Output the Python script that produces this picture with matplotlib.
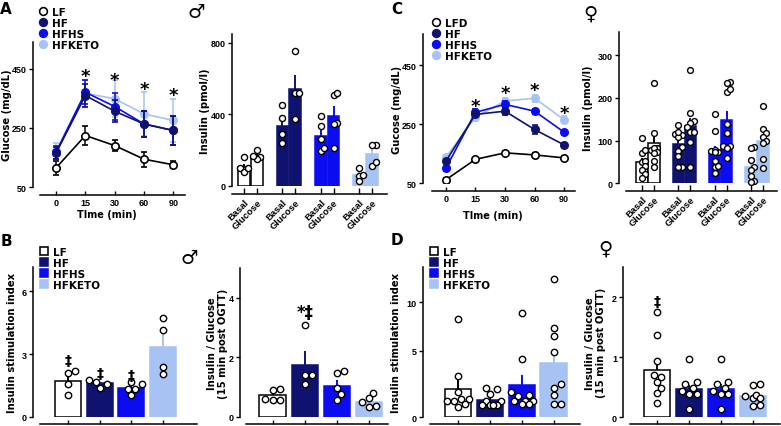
import numpy as np
import matplotlib
matplotlib.use("Agg")
import matplotlib.pyplot as plt
from matplotlib.lines import Line2D

plt.rcParams['font.family'] = ['DejaVu Sans']
plt.rcParams['font.weight'] = 'bold'
plt.rcParams['axes.labelweight'] = 'bold'

W, H, DPI = 781, 427, 100
NARROW = ['Liberation Sans Narrow', 'Liberation Sans', 'DejaVu Sans']

# ---- data -------------------------------------------------------------------
groups = ["LF", "HF", "HFHS", "HFKETO"]
times = ["0", "15", "30", "60", "90"]
ins_labels = ["Basal", "Glucose"]

# A: male OGTT glucose (mg/dL), mean +/- SEM
a_lf = [115, 224, 190, 144, 125]
a_lf_sem = [23, 32, 20, 25, 12]
a_hf = [165, 359, 306, 263, 241]
a_hf_sem = [20, 38, 37, 45, 50]
a_hfhs = [168, 370, 322, 263, 241]
a_hfhs_sem = [22, 40, 44, 45, 48]
a_keto = [171, 367, 348, 297, 275]
a_keto_sem = [27, 45, 62, 75, 73]
a_star_y = [438, 426, 395, 374]

# A right: male insulin (pmol/l)
a_ins_basal = [107, 338, 282, 62]
a_ins_gluc = [169, 545, 389, 178]
a_ins_basal_sem = [18, 45, 38, 15]
a_ins_gluc_sem = [12, 75, 58, 28]
a_ins_basal_pts = [[160, 103, 79, 100], [451, 381, 291, 240],
                   [391, 336, 263, 197, 210], [98, 56, 60, 28]]
a_ins_gluc_pts = [[203, 160, 150, 165], [755, 520, 520, 376],
                  [511, 522, 353, 344, 210], [231, 227, 113, 137]]

# C: female OGTT glucose (mg/dL)
c_lfd = [62, 131, 153, 146, 136]
c_lfd_sem = [6, 6, 6, 6, 6]
c_hf = [125, 283, 294, 232, 180]
c_hf_sem = [8, 10, 12, 15, 8]
c_hfhs = [101, 290, 317, 294, 223]
c_hfhs_sem = [8, 10, 10, 8, 8]
c_keto = [138, 274, 328, 338, 265]
c_keto_sem = [8, 12, 12, 12, 12]
c_star_y = [325, 370, 379, 302]

# C right: female insulin (pmol/l)
c_ins_basal = [49, 92, 73, 39]
c_ins_gluc = [94, 134, 148, 100]
c_ins_basal_sem = [10, 10, 14, 10]
c_ins_gluc_sem = [20, 18, 22, 15]
c_ins_basal_pts = [[106, 71, 79, 51, 52, 40, 31, 22, 12],
                   [136, 116, 112, 108, 120, 85, 76, 63, 39, 39],
                   [161, 123, 73, 75, 77, 52, 39, 41, 24, 73],
                   [84, 82, 55, 39, 31, 16, 6, 4]]
c_ins_gluc_pts = [[234, 117, 82, 79, 82, 73, 71, 53, 39],
                  [264, 164, 145, 141, 131, 120, 121, 96, 39],
                  [237, 234, 213, 221, 139, 118, 88, 88, 82, 59],
                  [180, 126, 117, 108, 98, 95, 57, 36]]

# B: male insulin stimulation index and insulin/glucose
b_isi = [1.71, 1.6, 1.36, 3.33]
b_isi_sem = [0.25, 0.08, 0.12, 0.95]
b_isi_pts = [[2.1, 2.18, 1.55, 1.04], [1.67, 1.39, 1.55, 1.78],
             [1.66, 1.34, 1.04, 1.55, 1.31], [4.74, 4.15, 2.05, 2.37]]
b_isi_dagger_y = [2.9, 2.3, 2.2]
b_ig = [0.74, 1.75, 1.04, 0.51]
b_ig_sem = [0.08, 0.45, 0.2, 0.09]
b_ig_pts = [[0.93, 0.9, 0.6, 0.57, 0.57], [3.1, 1.1, 1.42, 1.42],
            [1.46, 1.53, 0.97, 0.76, 0.56], [0.8, 0.48, 0.62, 0.31, 0.35]]
b_ig_mark_y = 3.69

# D: female insulin stimulation index and insulin/glucose
d_isi = [2.15, 1.3, 2.4, 4.05]
d_isi_sem = [0.65, 0.15, 0.8, 0.6]
d_isi_pts = [[8.3, 3.1, 1.9, 1.4, 1.4, 1.2, 1.2, 1.0, 0.8],
             [2.1, 1.75, 2.2, 1.2, 1.2, 0.9, 0.9, 0.9, 0.9],
             [8.9, 4.4, 1.9, 1.7, 1.6, 1.25, 1.25, 1.0, 1.0, 1.2],
             [12.4, 7.3, 6.55, 4.9, 2.5, 2.2, 1.7, 1.0, 1.0]]
d_ig = [0.79, 0.47, 0.47, 0.35]
d_ig_sem = [0.15, 0.07, 0.08, 0.04]
d_ig_pts = [[1.75, 1.37, 0.94, 0.71, 0.68, 0.49, 0.59, 0.4, 0.24],
            [0.97, 0.56, 0.49, 0.59, 0.39, 0.39, 0.44, 0.14],
            [0.97, 0.56, 0.49, 0.59, 0.39, 0.39, 0.44, 0.14],
            [0.54, 0.56, 0.33, 0.35, 0.38, 0.33, 0.19, 0.2]]
d_ig_dagger_y = 2.0

# ---- style ------------------------------------------------------------------
NAVY, BLUE, LIGHT = '#10126f', '#0c0cf0', '#a6c3f3'
faces = ['white', NAVY, BLUE, LIGHT]
edges = ['black', NAVY, BLUE, LIGHT]

fig = plt.figure(figsize=(W / DPI, H / DPI), dpi=DPI)


def box(l, r, t, b):
    return [l / W, 1 - b / H, (r - l) / W, (b - t) / H]


def style(ax, left_out, bottom_out, xtick_len=4):
    for s in ("top", "right"):
        ax.spines[s].set_visible(False)
    ax.spines["left"].set_position(("outward", left_out * 0.72))
    ax.spines["bottom"].set_position(("outward", bottom_out * 0.72))
    for s in ("left", "bottom"):
        ax.spines[s].set_linewidth(1.1)
    ax.tick_params(axis="y", direction="out", length=3, width=1.0, labelsize=6.5, pad=1.5)
    ax.tick_params(axis="x", direction="in", length=xtick_len * 0.72, width=1.0,
                   labelsize=6.5, pad=2.5)


def narrow_ticks(ax):
    for t in ax.get_xticklabels() + ax.get_yticklabels():
        t.set_family(NARROW)
        t.set_weight('bold')


def ylabel_at(ax, text, right_px, l, r):
    ax.set_ylabel(text, fontsize=7.2, linespacing=1.1)
    ax.yaxis.set_label_coords((right_px - l) / (r - l), 0.5)


def swarm_x(ax, x0, vals, half_px, diam=6.3, thr=0.85):
    vals = np.asarray(vals, float)
    disp = ax.transData.transform(np.column_stack([np.full(len(vals), x0), vals]))
    out = disp[:, 0].copy()
    done = []
    step = diam * 0.5
    nmax = int(half_px // step)
    cands = [0.0]
    for k in range(1, nmax + 1):
        cands += [k * step, -k * step]
    for i in np.argsort(disp[:, 1]):
        cx, cy = disp[i]
        best, best_d = cx, -1
        for c in cands:
            tx = cx + c
            d = min([np.hypot(tx - px, cy - py) for px, py in done] + [1e9])
            if d >= diam * thr:
                best = tx
                break
            if d > best_d:
                best, best_d = tx, d
        out[i] = best
        done.append((best, cy))
    return ax.transData.inverted().transform(np.column_stack([out, disp[:, 1]]))[:, 0]


def bar_with_points(ax, xp, mean, sem, pts, g, width, half_px, ms=4.4, thr=0.85):
    ax.errorbar([xp], [mean], yerr=[[0], [sem]], fmt='none', ecolor=edges[g],
                elinewidth=1.4, capsize=0, zorder=1.5)
    ax.bar(xp, mean, width, color=faces[g], edgecolor=edges[g], linewidth=1.1, zorder=2)
    xs = swarm_x(ax, xp, pts, half_px, diam=ms * 1.39 + 1, thr=thr)
    ax.plot(xs, pts, 'o', ms=ms, mfc='white', mec='black', mew=1.0, zorder=3, clip_on=False)


def mark(ax, x, y, s, size):
    ax.annotate(s, (x, y), xytext=(0, -0.3 * size), textcoords='offset points',
                ha='center', va='center', fontsize=size, fontweight='bold')


def ogtt(ax, series, stars):
    x = np.arange(len(times))
    for vals, sem, g in reversed(series):
        ax.errorbar(x, vals, yerr=sem, color=edges[g], ecolor=edges[g], lw=1.2,
                    marker='o', ms=5.3, mfc=faces[g], mec=edges[g],
                    mew=1.2, capsize=2.5, elinewidth=1.1, capthick=1.1, zorder=3 + (3 - g) * 0.1)
    for xi, ys in zip(x[1:], stars):
        ax.annotate('*', (xi, ys), xytext=(0, -3), textcoords='offset points',
                    ha='center', va='center', fontsize=13, fontweight='bold')
    ax.set_xticks(x)
    ax.set_xticklabels(times)


def legend(ax, names, marker, ms, x0, y0):
    hs = [Line2D([], [], ls='none', marker=marker, ms=ms, mfc=faces[g],
                 mec=edges[g], mew=1.15) for g in range(4)]
    ax.legend(hs, names, loc='upper left', bbox_to_anchor=(x0 / W, 1 - y0 / H),
              bbox_transform=fig.transFigure, frameon=False, prop={'size': 7.5, 'weight': 'bold'},
              handlelength=0.8, handletextpad=0.45, labelspacing=0.1, borderpad=0,
              borderaxespad=0)


# ---- A left: male OGTT -----------------------------------------------------
ax = fig.add_axes(box(40, 185, 43, 188))
style(ax, 7, 8)
ax.set_xlim(-0.55, 4.4)
ax.set_ylim(50, 540)
ax.set_yticks([50, 250, 450])
ogtt(ax, [(a_lf, a_lf_sem, 0), (a_hf, a_hf_sem, 1), (a_hfhs, a_hfhs_sem, 2),
          (a_keto, a_keto_sem, 3)], a_star_y)
ax.set_xlabel("TIme (min)", fontsize=7)
ax.xaxis.set_label_coords((107 - 40) / 145, -0.155)
ylabel_at(ax, "Glucose (mg/dL)", 12, 40, 185)
legend(ax, groups, 'o', 5.6, 39, 8)
narrow_ticks(ax)

# ---- A right: male insulin ----------------------------------------------------
ax = fig.add_axes(box(232, 387, 35, 187))
style(ax, 0, 8, 6)
ax.set_xlim(-0.94, 11.17)
ax.set_ylim(0, 850)
ax.set_yticks([0, 400, 800])
ticks = []
for g in range(4):
    for j, (m, s, p) in enumerate([(a_ins_basal[g], a_ins_basal_sem[g], a_ins_basal_pts[g]),
                                   (a_ins_gluc[g], a_ins_gluc_sem[g], a_ins_gluc_pts[g])]):
        bar_with_points(ax, 3 * g + j, m, s, p, g, 0.91, 5, ms=4.4, thr=0.7)
        ticks.append(3 * g + j)
ax.set_xticks(ticks)
ax.set_xticklabels(ins_labels * 4, rotation=45, ha='right', rotation_mode='anchor', fontsize=6.8)
ylabel_at(ax, "Insulin (pmol/l)", 210, 232, 387)
narrow_ticks(ax)

# ---- C left: female OGTT -----------------------------------------------------
ax = fig.add_axes(box(432, 575, 35, 184.3))
style(ax, 9, 7.7)
ax.set_xlim(-0.47, 4.37)
ax.set_ylim(50, 555)
ax.set_yticks([50, 250, 450])
ogtt(ax, [(c_lfd, c_lfd_sem, 0), (c_hf, c_hf_sem, 1), (c_hfhs, c_hfhs_sem, 2),
          (c_keto, c_keto_sem, 3)], c_star_y)
ax.set_xlabel("TIme (min)", fontsize=7)
ax.xaxis.set_label_coords((493 - 432) / 143, -0.18)
ylabel_at(ax, "Gucose (mg/dL)", 402, 432, 575)
legend(ax, ["LFD"] + groups[1:], 'o', 5.6, 432, 19)
narrow_ticks(ax)

# ---- C right: female insulin ---------------------------------------------------
ax = fig.add_axes(box(626, 777, 33, 184.3))
style(ax, 7, 7.4, 6)
ax.set_xlim(-1.32, 11.16)
ax.set_ylim(0, 354)
ax.set_yticks([0, 100, 200, 300])
ticks = []
for g in range(4):
    for j, (m, s, p) in enumerate([(c_ins_basal[g], c_ins_basal_sem[g], c_ins_basal_pts[g]),
                                   (c_ins_gluc[g], c_ins_gluc_sem[g], c_ins_gluc_pts[g])]):
        bar_with_points(ax, 3 * g + j, m, s, p, g, 0.93, 6, ms=4.2, thr=0.75)
        ticks.append(3 * g + j)
ax.set_xticks(ticks)
ax.set_xticklabels(ins_labels * 4, rotation=45, ha='right', rotation_mode='anchor', fontsize=6.8)
ylabel_at(ax, "Insulin (pmol/l)", 593, 626, 777)
narrow_ticks(ax)


def group_bars(ax, means, sems, pts):
    for g in range(4):
        bar_with_points(ax, g, means[g], sems[g], pts[g], g, 0.82, 12, ms=4.6)
    ax.set_xticks(range(4))
    ax.set_xticklabels([])
    narrow_ticks(ax)


# ---- B left ----------------------------------------------------------------
ax = fig.add_axes(box(40, 197, 268.3, 417.7))
style(ax, 7, 7.3)
ax.set_xlim(-0.88, 4.07)
ax.set_ylim(0, 7.15)
ax.set_yticks([0, 3, 6])
group_bars(ax, b_isi, b_isi_sem, b_isi_pts)
for g, y in enumerate(b_isi_dagger_y):
    mark(ax, g, y, '‡', 10)
ylabel_at(ax, "Insulin stimulation index", 17, 40, 197)
legend(ax, groups, 's', 6.0, 40, 248)

# ---- B right ---------------------------------------------------------------
ax = fig.add_axes(box(246, 388, 269.3, 417.7))
style(ax, 6, 7.3)
ax.set_xlim(-0.83, 3.59)
ax.set_ylim(0, 5)
ax.set_yticks([0, 2, 4])
group_bars(ax, b_ig, b_ig_sem, b_ig_pts)
mark(ax, 1, b_ig_mark_y, '*‡', 12)
ylabel_at(ax, "Insulin / Glucose\n(15 min post OGTT)", 228, 246, 388)

# ---- D left (split-scale y axis) ------------------------------------------------


def fwd(v):
    v = np.asarray(v, float)
    return np.where(v <= 5, v, 5 + (v - 5) * 0.725)


def inv(u):
    u = np.asarray(u, float)
    return np.where(u <= 5, u, 5 + (u - 5) / 0.725)


ax = fig.add_axes(box(430, 580, 268.3, 418.3))
style(ax, 7.3, 6.7)
ax.set_yscale('function', functions=(fwd, inv))
ax.set_xlim(-0.87, 3.83)
ax.set_ylim(0, 13.6)
ax.set_yticks([0, 5, 10])
ax.set_yticklabels(['0', '5', '10'])
ax.yaxis.set_minor_locator(matplotlib.ticker.NullLocator())
group_bars(ax, d_isi, d_isi_sem, d_isi_pts)
ylabel_at(ax, "Insulin stimulation index", 401, 430, 580)
legend(ax, groups, 's', 6.0, 430, 248)

# ---- D right ----------------------------------------------------------------
ax = fig.add_axes(box(630, 780, 268.3, 418.3))
style(ax, 6.7, 6.7)
ax.set_xlim(-0.86, 3.86)
ax.set_ylim(0, 2.5)
ax.set_yticks([0, 1, 2])
group_bars(ax, d_ig, d_ig_sem, d_ig_pts)
mark(ax, 0, d_ig_dagger_y, '‡', 10)
ylabel_at(ax, "Insulin / Glucose\n(15 min post OGTT)", 606, 630, 780)

# ---- panel letters and sex symbols ------------------------------------------------
for s, x, y in [("A", 6, 10), ("B", 6, 242), ("C", 397, 9), ("D", 397, 241)]:
    fig.text(x / W, 1 - y / H, s, fontsize=11, fontweight='bold', ha='center', va='center')
for s, x, y in [("♂", 196, 13), ("♂", 189, 259), ("♀", 590, 14), ("♀", 605, 249)]:
    fig.text(x / W, 1 - y / H, s, fontsize=14, fontweight='normal', ha='center', va='center')

fig.savefig("out.png", dpi=DPI)
